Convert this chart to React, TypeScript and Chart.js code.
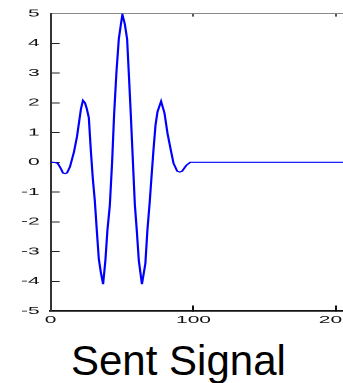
import { useEffect, useRef } from "react";
import { Chart, registerables } from "chart.js";

Chart.register(...registerables);

const sampleX = [
  0, 2, 4, 5.1, 7, 8.6, 10, 11.4, 13.5, 16.3,
  18.4, 19.8, 21.2, 22.6, 24, 25.3, 26.7, 28.1, 29.5, 30.9,
  32.3, 33.7, 35.1, 36.7, 38.3, 39.7, 41.4, 43, 44.4, 46,
  47.7, 49.2, 50.2, 51.9, 53.5, 54.7, 56.1, 57.5, 58.9, 60.3,
  61.7, 63.9, 66.3, 67.7, 69.4, 70.5, 72, 73.4, 74.8, 77.3,
  79.7, 81.8, 84.2, 86, 88.6, 90.3, 92, 95, 97.7, 100,
  211,
];
const sampleY = [
  0, 0, -0.02, -0.05, -0.2, -0.36, -0.38, -0.36, -0.15, 0.35,
  0.86, 1.33, 1.8, 2.08, 2.0, 1.8, 1.5, 0.4, -0.55, -1.3,
  -2.3, -3.25, -3.7, -4.1, -3.3, -2.3, -1.45, 0, 1.6, 3.0,
  4.15, 4.65, 4.97, 4.65, 4.15, 3.0, 1.6, 0.1, -1.4, -2.3,
  -3.3, -4.1, -3.4, -2.3, -1.3, -0.55, 0.43, 1.25, 1.7, 2.05,
  1.65, 0.97, 0.39, -0.03, -0.3, -0.33, -0.3, -0.1, 0, 0,
  0,
];
const xTickValues = [0, 100, 200];
const xRange = [0, 211];
const yRange = [-5, 5];
const yStep = 1;
const titleText = "Sent Signal";

const tickFont = { family: "'Liberation Sans', Arial, sans-serif", size: 10.5 };

export default function App() {
  const ref = useRef<HTMLCanvasElement>(null);

  useEffect(() => {
    if (!ref.current) return;
    const chart = new Chart(ref.current, {
      type: "line",
      data: {
        datasets: [
          {
            data: sampleX.map((x, i) => ({ x, y: sampleY[i] })),
            borderColor: "#0000ff",
            borderWidth: 1.1,
            pointRadius: 0,
            tension: 0,
            fill: false,
            xAxisID: "x",
            yAxisID: "y",
          },
        ],
      },
      options: {
        animation: false,
        responsive: false,
        devicePixelRatio: 2,
        layout: { padding: 0 },
        plugins: {
          legend: { display: false },
          tooltip: { enabled: false },
          title: { display: false },
        },
        scales: {
          x: {
            type: "linear",
            position: "bottom",
            min: xRange[0],
            max: xRange[1],
            afterBuildTicks: (s: any) => {
              s.ticks = xTickValues.map((v) => ({ value: v }));
            },
            afterFit: (s: any) => {
              s.height = 19;
              s.paddingLeft = 0;
              s.paddingRight = 0;
            },
            grid: { drawOnChartArea: false, tickLength: -5.5, color: "#111", lineWidth: 1 },
            border: { color: "#111", width: 1.8 },
            ticks: {
              padding: 8.2,
              color: "#111",
              font: tickFont,
              maxRotation: 0,
              autoSkip: false,
            },
          },
          xTop: {
            type: "linear",
            position: "top",
            min: xRange[0],
            max: xRange[1],
            afterBuildTicks: (s: any) => {
              s.ticks = xTickValues.map((v) => ({ value: v }));
            },
            afterFit: (s: any) => {
              s.height = 13.6;
              s.paddingLeft = 0;
              s.paddingRight = 0;
            },
            grid: { drawOnChartArea: false, tickLength: -3, color: "#555", lineWidth: 1 },
            border: { color: "#8a8a8a", width: 1 },
            ticks: { display: false },
          },
          y: {
            type: "linear",
            position: "left",
            min: yRange[0],
            max: yRange[1],
            ticks: {
              stepSize: yStep,
              padding: 10,
              color: "#111",
              font: tickFont,
            },
            afterFit: (s: any) => {
              s.width = 25.35;
              s.paddingTop = 0;
              s.paddingBottom = 0;
            },
            grid: { drawOnChartArea: false, tickLength: -4.5, color: "#222", lineWidth: 1 },
            border: { color: "#333", width: 1 },
          },
        },
      },
    });
    return () => chart.destroy();
  }, []);

  return (
    <div
      style={{
        position: "absolute",
        left: 0,
        top: 0,
        width: 343,
        height: 383,
        overflow: "hidden",
        background: "#fff",
      }}
    >
      <div
        style={{
          position: "absolute",
          left: 0,
          top: 0,
          width: 176,
          height: 330,
          transform: "scaleX(2)",
          transformOrigin: "0 0",
        }}
      >
        <canvas ref={ref} width={176} height={330} style={{ display: "block" }} />
      </div>
      <div
        style={{
          position: "absolute",
          left: 71,
          top: 340,
          fontFamily: "'Liberation Sans', Arial, sans-serif",
          fontSize: 42,
          lineHeight: 1,
          whiteSpace: "nowrap",
          color: "#000",
        }}
      >
        {titleText}
      </div>
    </div>
  );
}
